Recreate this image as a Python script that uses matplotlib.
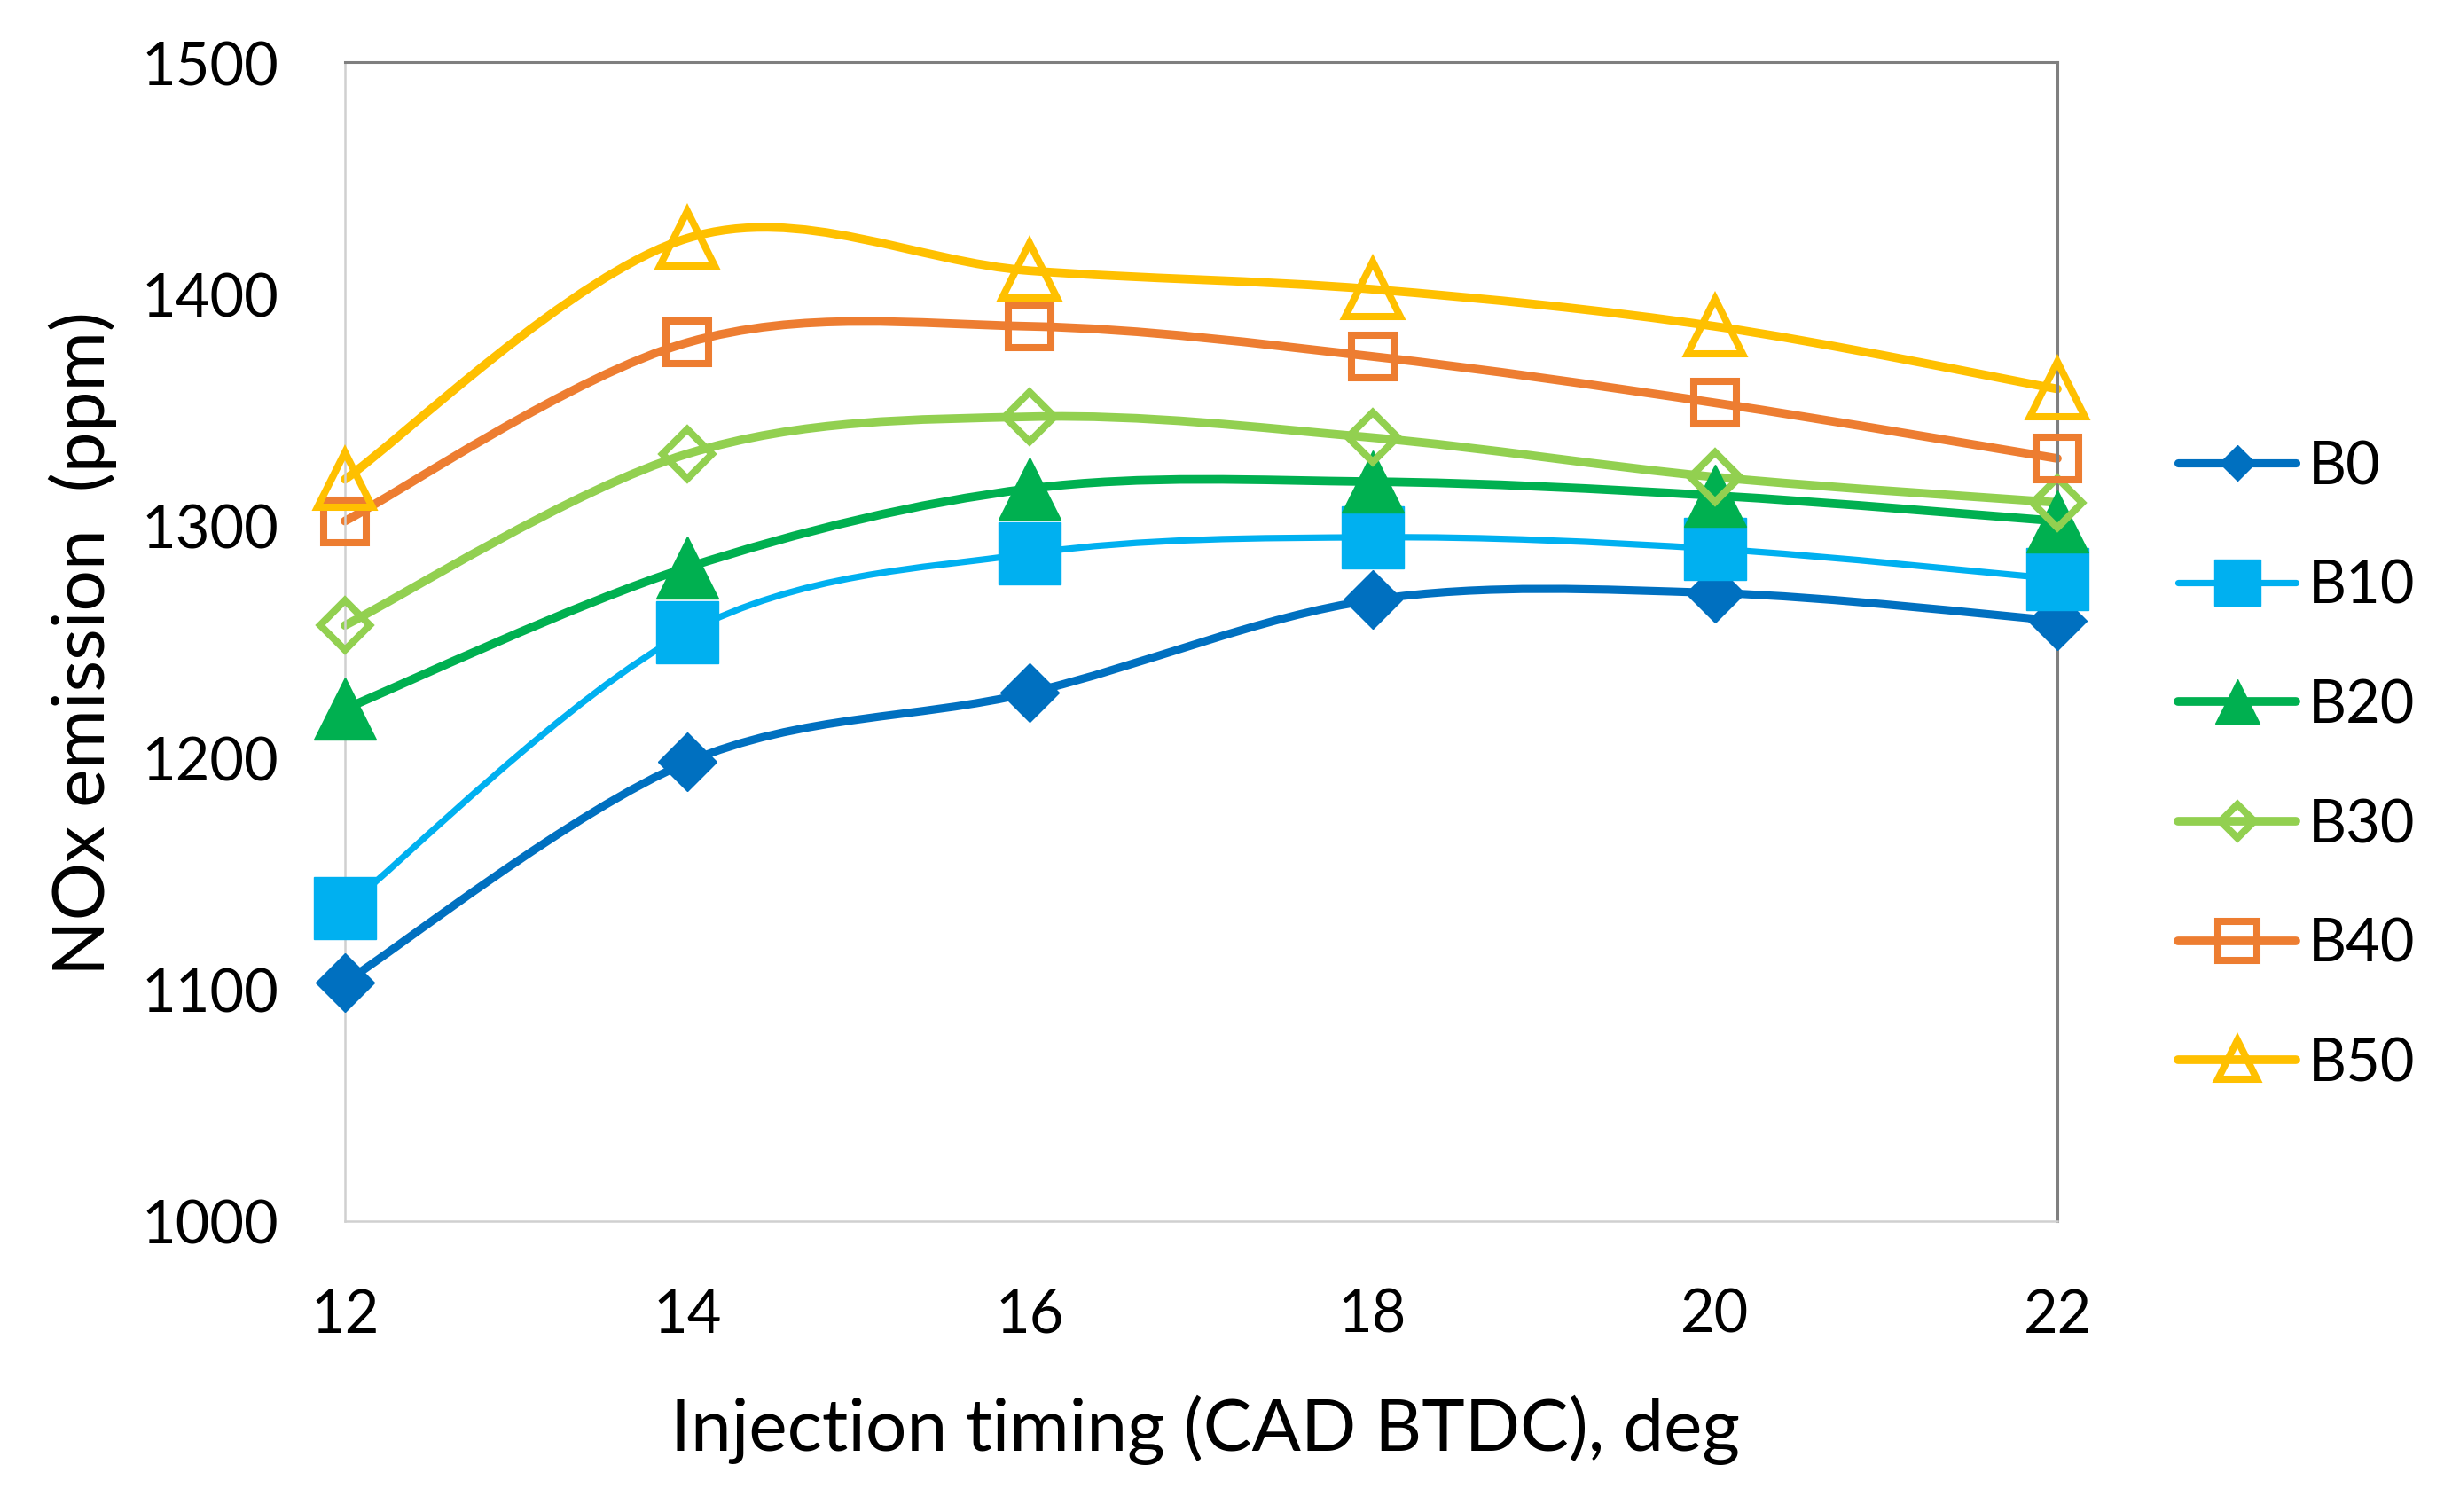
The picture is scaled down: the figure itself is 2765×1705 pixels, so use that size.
import matplotlib
matplotlib.use('Agg')
import matplotlib.pyplot as plt
from matplotlib.path import Path
from matplotlib.patches import PathPatch
from matplotlib.lines import Line2D
import numpy as np

plt.rcParams['font.family'] = ['Lato', 'DejaVu Sans']

# ---- data ----
timing = [12, 14, 16, 18, 20, 22]
series_names = ['B0', 'B10', 'B20', 'B30', 'B40', 'B50']
B0 = [1103, 1198, 1228, 1268, 1271, 1259]
B10 = [1135, 1254, 1288, 1295, 1290, 1277]
B20 = [1221, 1282, 1316, 1319, 1313, 1302]
B30 = [1257, 1331, 1347, 1338, 1321, 1310]
B40 = [1302, 1379, 1386, 1373, 1353, 1329]
B50 = [1320, 1424, 1410, 1402, 1386, 1359]
yticks = [1000, 1100, 1200, 1300, 1400, 1500]
xlabel = 'Injection timing (CAD BTDC), deg'
ylabel = 'NOx emission  (ppm)'

values = [B0, B10, B20, B30, B40, B50]

# ---- styles ----
colors = ['#0070C0', '#00B0F0', '#00B050', '#92D050', '#ED7D31', '#FFC000']
markers = ['D', 's', '^', 'D', 's', '^']
filled = [True, True, True, False, False, False]
msizes = [17, 25, 25, 14.5, 17.5, 22]
leg_ms = [10, 18.5, 18, 9.5, 16, 16]
lws = [3.3, 2.6, 3.5, 3.5, 3.5, 3.5]


def smooth_path(x, y):
    pts = np.column_stack([x, y]).astype(float)
    n = len(pts)
    verts = [pts[0]]
    codes = [Path.MOVETO]
    for i in range(n - 1):
        p0 = pts[i - 1] if i > 0 else pts[i]
        p1 = pts[i]
        p2 = pts[i + 1]
        p3 = pts[i + 2] if i + 2 < n else pts[i + 1]
        c1 = p1 + (p2 - p0) / 6.0
        c2 = p2 - (p3 - p1) / 6.0
        verts += [c1, c2, p2]
        codes += [Path.CURVE4] * 3
    return Path(verts, codes)


fig = plt.figure(figsize=(13.825, 8.53), dpi=200)
ax = fig.add_axes([389 / 2765, 1 - 1378 / 1706, (2320 - 389) / 2765, (1378 - 71) / 1706])

handles = []
for i, (name, vals) in enumerate(zip(series_names, values)):
    c = colors[i]
    patch = PathPatch(smooth_path(timing, vals), facecolor='none', edgecolor=c,
                      lw=lws[i], capstyle='round', joinstyle='round', zorder=2 + i * 0.01,
                      clip_on=False)
    ax.add_patch(patch)
    if filled[i]:
        mkw = dict(mfc=c, mec=c, mew=0.5)
    else:
        mkw = dict(mfc='none', mec=c, mew=2.9)
    ax.plot(timing, vals, ls='none', marker=markers[i], ms=msizes[i], clip_on=False,
            zorder=3 + i, **mkw)
    handles.append(Line2D([0], [0], color=c, lw=lws[i], marker=markers[i], ms=leg_ms[i],
                          solid_capstyle='round', **mkw))

ax.set_xlim(12, 22)
ax.set_ylim(1000, 1500)
ax.set_xticks(timing)
ax.set_yticks(yticks)
ax.tick_params(axis='both', length=0, labelsize=24)
ax.tick_params(axis='y', pad=27)
ax.tick_params(axis='x', pad=27)

for s in ['left', 'bottom']:
    ax.spines[s].set_color('#D0D0D0')
    ax.spines[s].set_linewidth(0.9)
for s in ['top', 'right']:
    ax.spines[s].set_color('#7F7F7F')
    ax.spines[s].set_linewidth(1.1)

fig.text(1359 / 2765, 1 - 1612 / 1706, xlabel, ha='center', va='center', fontsize=29.5)
fig.text(93 / 2765, 1 - 725 / 1706, ylabel, ha='center', va='center', fontsize=29.5,
         rotation=90)

fig.legend(handles=handles, labels=series_names, loc='center left',
           bbox_to_anchor=(2456 / 2765, 1 - 864 / 1706), frameon=False,
           fontsize=24, handlelength=2.0, handletextpad=0.2, labelspacing=1.09,
           borderpad=0, borderaxespad=0)

fig.savefig('out.png', dpi=200, facecolor='white')
